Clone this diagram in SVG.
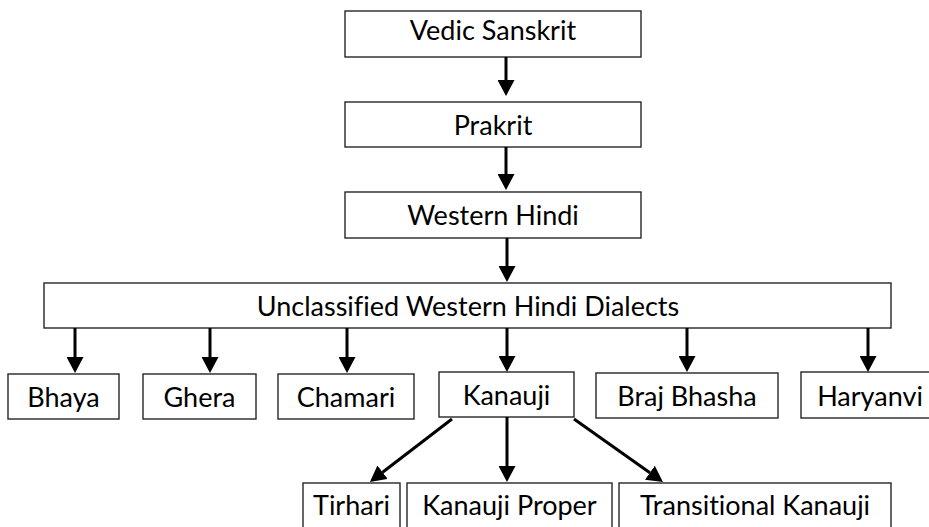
<svg xmlns="http://www.w3.org/2000/svg" width="929" height="527" viewBox="0 0 929 527">
<style>
.box{fill:#fff;stroke:#262626;stroke-width:1.4}
.lbl{font-family:Lato,"Liberation Sans",sans-serif;font-size:27px;fill:#000;text-anchor:middle;font-variant-ligatures:none;font-feature-settings:"liga" 0,"clig" 0}
.conn line{stroke:#000;stroke-width:3;marker-end:url(#ah)}
</style>
<defs>
<marker id="ah" viewBox="0 0 16 17" refX="0" refY="8.5" markerWidth="16" markerHeight="17" markerUnits="userSpaceOnUse" orient="auto">
<path d="M0,0 L16,8.5 L0,17 Z" fill="#000"/>
</marker>
</defs>
<rect width="929" height="527" fill="#fff"/>
<g id="vedic"><rect class="box" x="345" y="11" width="296" height="46"/><text class="lbl" x="493" y="40">Vedic Sanskrit</text></g>
<g id="prakrit"><rect class="box" x="345" y="102" width="296" height="45"/><text class="lbl" x="493" y="135">Prakrit</text></g>
<g id="western"><rect class="box" x="345" y="192" width="296" height="46"/><text class="lbl" x="493" y="225">Western Hindi</text></g>
<g id="unclassified"><rect class="box" x="44" y="283" width="847" height="45"/><text class="lbl" x="468" y="316">Unclassified Western Hindi Dialects</text></g>
<g id="bhaya"><rect class="box" x="8" y="374" width="111" height="45"/><text class="lbl" x="63.5" y="407">Bhaya</text></g>
<g id="ghera"><rect class="box" x="143" y="374" width="113" height="45"/><text class="lbl" x="199.5" y="407">Ghera</text></g>
<g id="chamari"><rect class="box" x="278" y="374" width="136" height="45"/><text class="lbl" x="346" y="407">Chamari</text></g>
<g id="kanauji"><rect class="box" x="439" y="372" width="135" height="45"/><text class="lbl" x="506.5" y="405">Kanauji</text></g>
<g id="braj"><rect class="box" x="596" y="373" width="182" height="45"/><text class="lbl" x="687" y="406">Braj Bhasha</text></g>
<g id="haryanvi"><rect class="box" x="801" y="372" width="139" height="46"/><text class="lbl" x="870" y="406">Haryanvi</text></g>
<g id="tirhari"><rect class="box" x="303" y="483" width="97" height="46"/><text class="lbl" x="351.5" y="515">Tirhari</text></g>
<g id="kanauji-proper"><rect class="box" x="407" y="483" width="205" height="46"/><text class="lbl" x="509.5" y="515">Kanauji Proper</text></g>
<g id="transitional"><rect class="box" x="619" y="483" width="272" height="46"/><text class="lbl" x="755" y="515">Transitional Kanauji</text></g>
<g id="connectors" class="conn">
<line x1="506" y1="57" x2="506" y2="80"/>
<line x1="506" y1="147" x2="506" y2="174"/>
<line x1="507" y1="238" x2="507" y2="266"/>
<line x1="75" y1="328" x2="75" y2="357"/>
<line x1="210" y1="328" x2="210" y2="357"/>
<line x1="347" y1="328" x2="347" y2="357"/>
<line x1="507" y1="328" x2="507" y2="356"/>
<line x1="687" y1="328" x2="687" y2="356"/>
<line x1="868" y1="328" x2="868" y2="356"/>
<line x1="452" y1="419" x2="382.6" y2="472.2"/>
<line x1="507" y1="417" x2="507" y2="466"/>
<line x1="574" y1="419" x2="649.9" y2="472.7"/>
</g>
</svg>
